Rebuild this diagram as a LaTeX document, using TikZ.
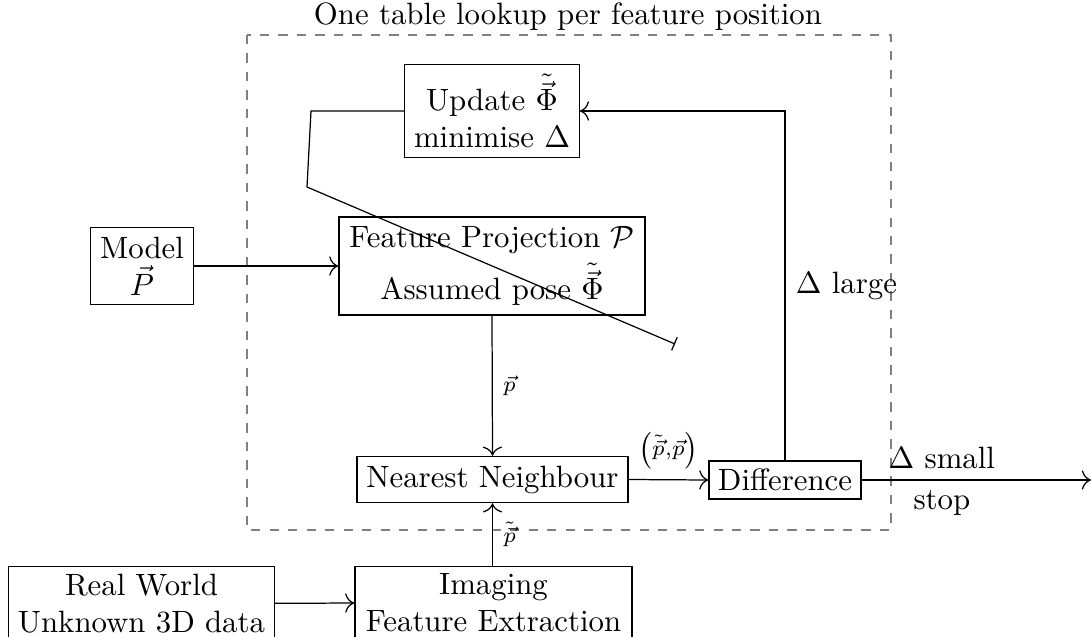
\documentclass[tikz,border=0pt]{standalone}
\usetikzlibrary{calc,arrows.meta}
\begin{document}
\begin{tikzpicture}[x=0.3245pt,y=-0.3245pt,
  >={To[scale=1.2]},
  box/.style={draw, align=center, inner sep=3pt},
  lbl/.style={font=\scriptsize}]
\useasboundingbox (0,0) rectangle (1091,637);

% frame of the per-feature loop
\draw[gray, dashed] (247,35) rectangle (891,530);
\node (title) at (568,17) {One table lookup per feature position};

% blocks
\node[box, minimum width=56.5pt, minimum height=29.2pt] (upd) at (492,111)
  {Update $\tilde{\vec{\Phi}}$\\minimise $\Delta$};
\node[box, minimum width=99.3pt, minimum height=30.8pt] (proj) at (492,266)
  {Feature Projection $\mathcal{P}$\\[2pt]Assumed pose $\tilde{\vec{\Phi}}$};
\node[box, minimum width=32.8pt, minimum height=24.7pt] (model) at (142,266)
  {Model\\$\vec{P}$};
\node[box, minimum width=87.9pt, minimum height=14.6pt] (nn) at (492.5,479.5)
  {Nearest Neighbour};
\node[box, inner sep=2pt, minimum width=49.3pt, minimum height=12.3pt] (diff) at (785,480)
  {Difference};
\node[box, anchor=north, inner ysep=2.5pt, minimum width=85.3pt] (real) at (141.5,565.5)
  {Real World\\Unknown 3D data};
\node[box, anchor=north, inner ysep=2.5pt, minimum width=89.9pt] (img) at (493.5,565.5)
  {Imaging\\Feature Extraction};

% helper points
\coordinate (out) at (1091,480);
\coordinate (k1) at (311,111);
\coordinate (k2) at (307,187);
\coordinate (k3) at (675,344);

% connectors
\draw[->] (model.east) -- (proj.west);
\draw[->] (real.east) -- (img.west);
\draw[->] (proj.south) -- (nn.north) node[midway, right, lbl] (lp) {$\vec{p}$};
\draw[->] (img.north -| nn.south) -- (nn.south) node[midway, right, lbl] (lq) {$\tilde{\vec{p}}$};
\draw[->] (nn.east) -- (diff.west) node[midway, above, lbl] (lpair) {$\left(\tilde{\vec{p}}{,}\vec{p}\right)$};
\draw[->] (diff.north) -- (diff.north |- upd.east) node[pos=0.5, right] (llarge) {$\Delta$ large} -- (upd.east);
\draw[->] (diff.east) -- (out)
  node[pos=0.35, above] (lsmall) {$\Delta$ small}
  node[pos=0.35, below] (lstop) {stop};
\draw[-|] (upd.west) -- (k1) -- (k2) -- (k3);
\end{tikzpicture}
\end{document}
